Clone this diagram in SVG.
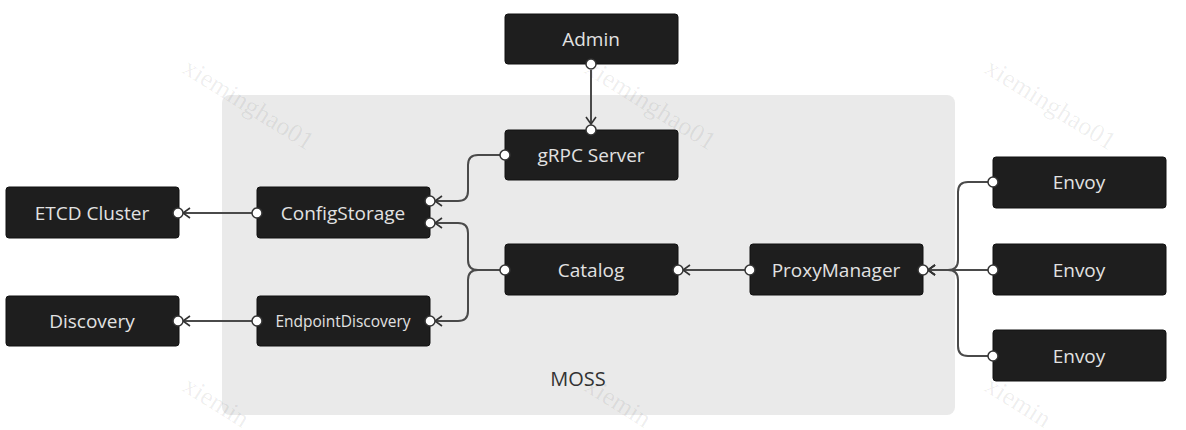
<svg xmlns="http://www.w3.org/2000/svg" width="1186" height="430" viewBox="0 0 1186 430">
<style>
.node rect{fill:#1e1e1e;stroke:#111;stroke-width:1}
.node text{fill:#e2e2e2;font-family:"Open Sans","Noto Sans",sans-serif;font-size:19px;text-anchor:middle;dominant-baseline:central}
.port{fill:#fff;stroke:#333;stroke-width:1.5}
.edge{fill:none;stroke:#4a4a4a;stroke-width:2;marker-end:url(#arr)}
.wm{font-family:"Liberation Serif",serif;font-size:26px;fill:#000;fill-opacity:0.07}
</style>
<defs>
<marker id="arr" markerUnits="userSpaceOnUse" markerWidth="20" markerHeight="20" refX="10" refY="10" orient="auto" viewBox="0 0 20 20">
<path d="M3,5 L10,10 L3,15" fill="none" stroke="#333" stroke-width="1.6"/>
</marker>
</defs>
<rect width="1186" height="430" fill="#fff"/>
<g id="moss">
<rect x="222" y="95" width="733" height="320" rx="8" fill="#eaeaea"/>
<text x="578" y="378" font-family="Open Sans, Noto Sans, sans-serif" font-size="20" fill="#333" text-anchor="middle" dominant-baseline="central">MOSS</text>
</g>
<g id="watermarks">
<text class="wm" transform="translate(181,72) rotate(32)">xieminghao01</text>
<text class="wm" transform="translate(583,72) rotate(32)">xieminghao01</text>
<text class="wm" transform="translate(983,72) rotate(32)">xieminghao01</text>
<text class="wm" transform="translate(181,390) rotate(32)">xiemin</text>
<text class="wm" transform="translate(583,390) rotate(32)">xiemin</text>
<text class="wm" transform="translate(983,390) rotate(32)">xiemin</text>
</g>
<g id="connectors">
<path class="edge" d="M591,70 V124"/>
<path class="edge" d="M500,155 H478 Q468,155 468,165 V191 Q468,201 458,201 H435"/>
<path class="edge" d="M500,270 H478 Q468,270 468,260 V233 Q468,223 458,223 H435"/>
<path class="edge" d="M500,270 H478 Q468,270 468,280 V311 Q468,321 458,321 H435"/>
<path class="edge" d="M252,213 H183"/>
<path class="edge" d="M252,321 H183"/>
<path class="edge" d="M745,270 H683"/>
<path class="edge" d="M988,182 H968 Q958,182 958,192 V260 Q958,270 948,270 H928"/>
<path class="edge" d="M988,270 H928"/>
<path class="edge" d="M988,356 H968 Q958,356 958,346 V280 Q958,270 948,270 H928"/>
</g>
<g id="admin" class="node"><rect x="505" y="14" width="173" height="50" rx="3"/><text x="591" y="39">Admin</text></g>
<g id="grpc" class="node"><rect x="505" y="130" width="173" height="50" rx="3"/><text x="591" y="155">gRPC Server</text></g>
<g id="configstorage" class="node"><rect x="257" y="187" width="173" height="51" rx="3"/><text x="343" y="213">ConfigStorage</text></g>
<g id="endpointdiscovery" class="node"><rect x="257" y="296" width="173" height="50" rx="3"/><text x="343" y="321" style="font-size:15.5px">EndpointDiscovery</text></g>
<g id="etcd" class="node"><rect x="6" y="187" width="173" height="51" rx="3"/><text x="92" y="213">ETCD Cluster</text></g>
<g id="discovery" class="node"><rect x="6" y="296" width="173" height="50" rx="3"/><text x="92" y="321">Discovery</text></g>
<g id="catalog" class="node"><rect x="505" y="244" width="173" height="51" rx="3"/><text x="591" y="270">Catalog</text></g>
<g id="proxymanager" class="node"><rect x="750" y="244" width="173" height="51" rx="3"/><text x="836" y="270">ProxyManager</text></g>
<g id="envoy1" class="node"><rect x="993" y="157" width="173" height="51" rx="3"/><text x="1079" y="182">Envoy</text></g>
<g id="envoy2" class="node"><rect x="993" y="244" width="173" height="51" rx="3"/><text x="1079" y="270">Envoy</text></g>
<g id="envoy3" class="node"><rect x="993" y="330" width="173" height="51" rx="3"/><text x="1079" y="356">Envoy</text></g>
<g id="ports">
<circle class="port" cx="591" cy="64" r="5"/>
<circle class="port" cx="591" cy="130" r="5"/>
<circle class="port" cx="505" cy="155" r="5"/>
<circle class="port" cx="430" cy="201" r="5"/>
<circle class="port" cx="430" cy="223" r="5"/>
<circle class="port" cx="257" cy="213" r="5"/>
<circle class="port" cx="430" cy="321" r="5"/>
<circle class="port" cx="257" cy="321" r="5"/>
<circle class="port" cx="178" cy="213" r="5"/>
<circle class="port" cx="178" cy="321" r="5"/>
<circle class="port" cx="505" cy="270" r="5"/>
<circle class="port" cx="678" cy="270" r="5"/>
<circle class="port" cx="750" cy="270" r="5"/>
<circle class="port" cx="923" cy="270" r="5"/>
<circle class="port" cx="993" cy="182" r="5"/>
<circle class="port" cx="993" cy="270" r="5"/>
<circle class="port" cx="993" cy="356" r="5"/>
</g>
</svg>
